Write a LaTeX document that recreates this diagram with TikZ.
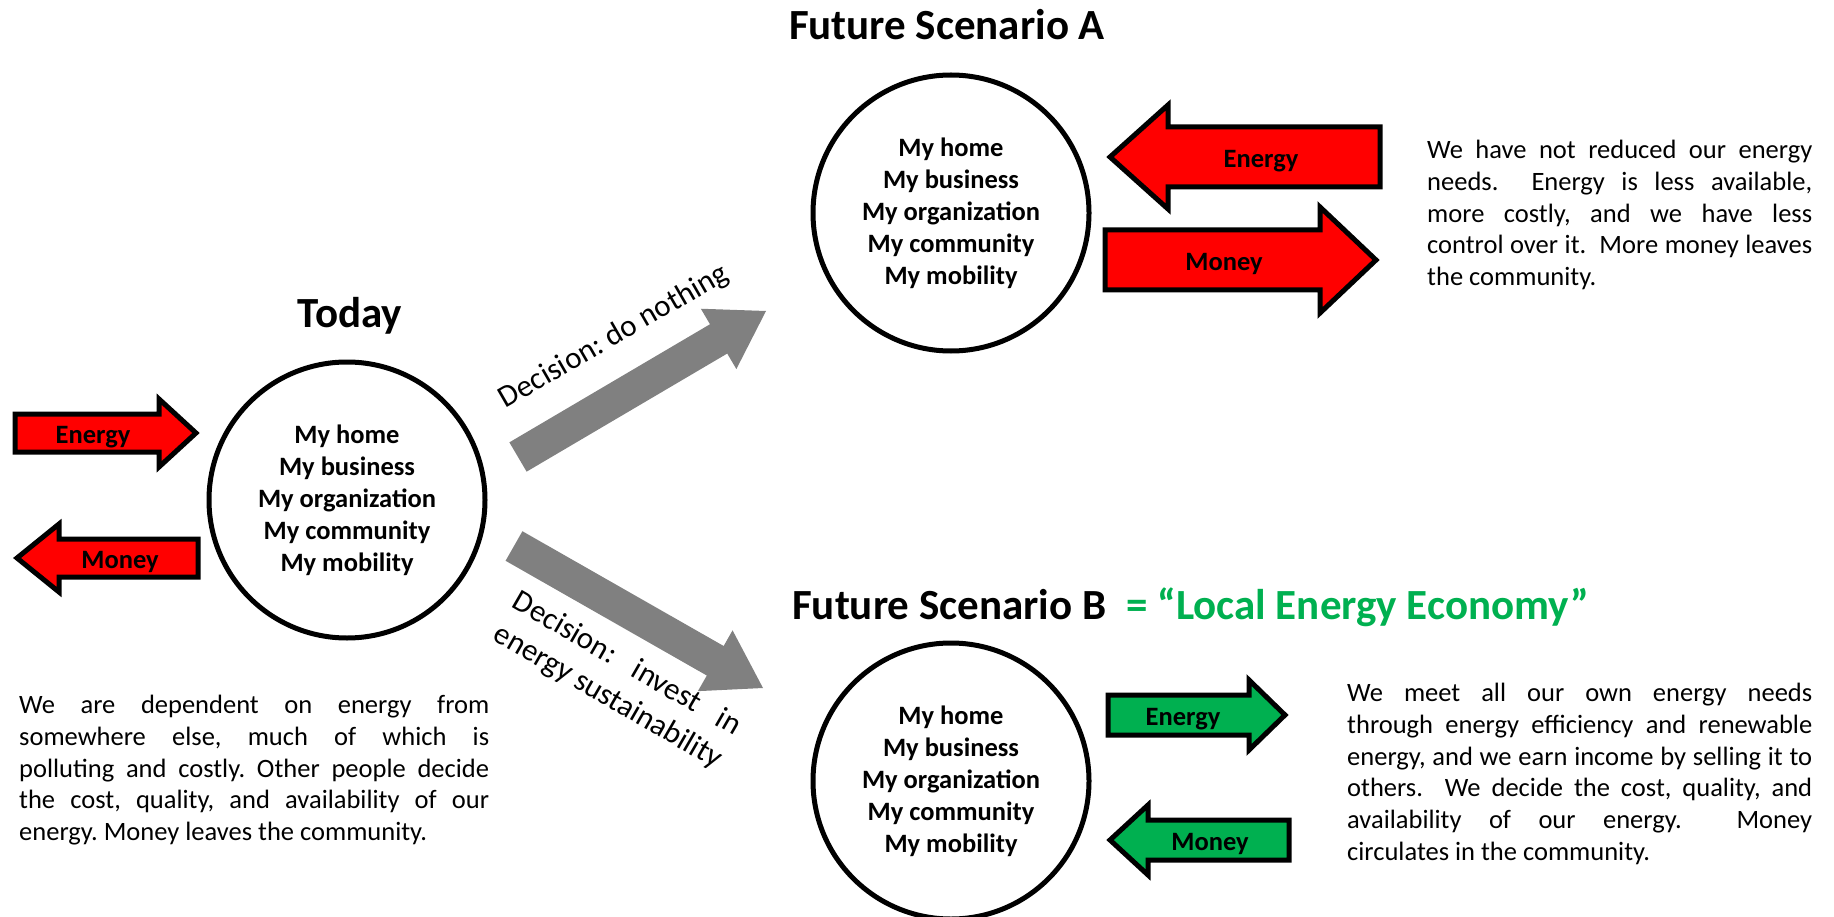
\documentclass[tikz,border=0pt]{standalone}
\usepackage{fontspec}
\setmainfont{Carlito}
\usetikzlibrary{calc}
\frenchspacing
\tolerance=10000

\definecolor{arrowred}{RGB}{255,0,0}
\definecolor{localgreen}{RGB}{0,176,80}
\definecolor{decisiongray}{RGB}{128,128,128}

\tikzset{
  title/.style={font=\fontsize{43}{51}\selectfont\bfseries, inner sep=0pt, anchor=base},
  place/.style={circle, draw, line width=5pt, minimum size=276pt, inner sep=0pt, align=center,
    font=\fontsize{26.5}{32}\selectfont\bfseries},
  flowred/.style={draw, line width=5pt, fill=arrowred},
  flowgreen/.style={draw, line width=5pt, fill=localgreen},
  flowlabel/.style={font=\fontsize{26.5}{32}\selectfont\bfseries, inner sep=0pt, anchor=base},
  story/.style={font=\fontsize{26.5}{31.8}\selectfont, inner sep=0pt, align=justify, anchor=base west},
  decision/.style={fill=decisiongray},
  decisionlabel/.style={font=\fontsize{31}{38}\selectfont, inner sep=0pt},
}

\begin{document}
\begin{tikzpicture}[x=1pt, y=-1pt]
            \useasboundingbox (0,0) rectangle (1834,917);

            % today
            \node[title] (todayTitle) at (350,327) {Today};
            \node[place] (today) at (347,500) {My home\\My business\\My organization\\My community\\My mobility};
            \draw[flowred] (15,414) -- (159,414) -- (159,399) -- (196,433) -- (159,467) -- (159,452) -- (15,452) -- cycle;
            \node[flowlabel] (todayEnergy) at (93,443.5) {Energy};
            \draw[flowred] (17,558) -- (59,524) -- (59,539) -- (198,539) -- (198,577) -- (59,577) -- (59,592) -- cycle;
            \node[flowlabel] (todayMoney) at (120,568.5) {Money};
            \node[story, text width=470pt] (todayText) at (19,713.5) {We are dependent on energy from\linebreak
              somewhere else, much of which is\linebreak polluting and costly. Other people decide\linebreak
              the cost, quality, and availability of our\linebreak energy. Money leaves the community.};

            % decisions
            \coordinate (doA0) at (518,457);
            \coordinate (doA1) at (766,311);
            \coordinate (doAb) at ($(doA1)!55pt!(doA0)$);
            \fill[decision] ($(doA0)!17pt!90:(doA1)$) -- ($(doAb)!17pt!90:(doA1)$) -- ($(doAb)!35pt!90:(doA1)$)
              -- (doA1) -- ($(doAb)!35pt!-90:(doA1)$) -- ($(doAb)!17pt!-90:(doA1)$) -- ($(doA0)!17pt!-90:(doA1)$) -- cycle;
            \node[decisionlabel, rotate=30] (doNothing) at (614,337) {Decision: do nothing};

            \coordinate (doB0) at (514,546);
            \coordinate (doB1) at (763,688);
            \coordinate (doBb) at ($(doB1)!55pt!(doB0)$);
            \fill[decision] ($(doB0)!17pt!90:(doB1)$) -- ($(doBb)!17pt!90:(doB1)$) -- ($(doBb)!35pt!90:(doB1)$)
              -- (doB1) -- ($(doBb)!35pt!-90:(doB1)$) -- ($(doBb)!17pt!-90:(doB1)$) -- ($(doB0)!17pt!-90:(doB1)$) -- cycle;
            \node[decisionlabel, rotate=-30, text width=258pt, align=justify] (doInvest) at (617,681)
              {Decision: invest in\linebreak energy sustainability};

            % scenario A
            \node[title] (titleA) at (947,40) {Future Scenario A};
            \node[place] (sceneA) at (951,213) {My home\\My business\\My organization\\My community\\My mobility};
            \draw[flowred] (1110,157) -- (1168,105) -- (1168,127) -- (1380,127) -- (1380,187) -- (1168,187) -- (1168,209) -- cycle;
            \node[flowlabel] (energyA) at (1261,167.5) {Energy};
            \draw[flowred] (1105,230) -- (1320,230) -- (1320,207) -- (1376,260) -- (1320,313) -- (1320,290) -- (1105,290) -- cycle;
            \node[flowlabel] (moneyA) at (1224,270.5) {Money};
            \node[story, text width=385pt] (textA) at (1427,158.5) {We have not reduced our energy\linebreak
              needs.\ \ Energy is less available,\linebreak more costly, and we have less\linebreak
              control over it.\ \ More money leaves\linebreak the community.};

            % scenario B
            \node[title, anchor=base west] (titleB) at (792,619) {Future Scenario B};
            \node[title, anchor=base west, text=localgreen] (localB) at (1126,619) {= “Local Energy Economy”};
            \node[place] (sceneB) at (951,781) {My home\\My business\\My organization\\My community\\My mobility};
            \draw[flowgreen] (1108,695) -- (1249,695) -- (1249,680) -- (1285,715) -- (1249,750) -- (1249,735) -- (1108,735) -- cycle;
            \node[flowlabel] (energyB) at (1183,725.5) {Energy};
            \draw[flowgreen] (1110,840) -- (1148,805) -- (1148,820) -- (1289,820) -- (1289,860) -- (1148,860) -- (1148,875) -- cycle;
            \node[flowlabel] (moneyB) at (1210,850.5) {Money};
            \node[story, text width=465pt] (textB) at (1347,701.5) {We meet all our own energy needs\linebreak
              through energy efficiency and renewable\linebreak energy, and we earn income by selling it to\linebreak
              others.\ \ We decide the cost, quality, and\linebreak availability of our energy.\ \ Money\linebreak
              circulates in the community.};
        \end{tikzpicture}
\end{document}
